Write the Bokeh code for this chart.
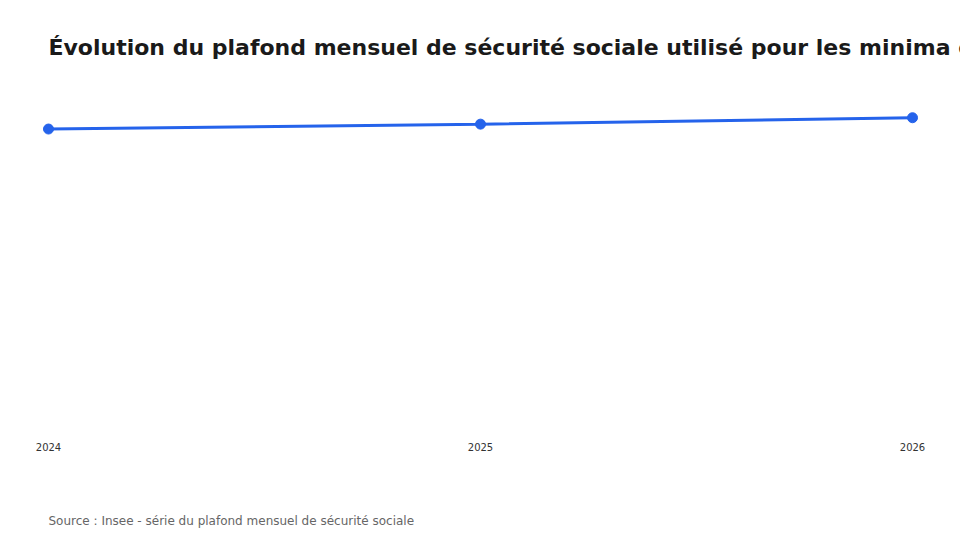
from bokeh.plotting import figure
from bokeh.models import ColumnDataSource, Range1d, FixedTicker, Title
from bokeh.embed import file_html
from bokeh.resources import INLINE

years = [2024, 2025, 2026]
pmss = [3864, 3925, 4005]

title_text = "Évolution du plafond mensuel de sécurité sociale utilisé pour les minima conventionnels"
source_text = "Source : Insee - série du plafond mensuel de sécurité sociale"

blue = "#2563eb"

source = ColumnDataSource(data=dict(x=years, y=pmss))

# points sit 20px inside the frame edges
pad = 20 / 432
p = figure(width=960, height=540, x_range=Range1d(years[0] - pad, years[-1] + pad),
           y_range=Range1d(0, 4370), y_axis_location=None,
           toolbar_location=None, tools="", output_backend="svg",
           min_border_left=28, min_border_right=28, min_border_top=88, min_border_bottom=102,
           outline_line_color=None, background_fill_color=None, border_fill_color="white")

p.line(x="x", y="y", line_width=3, color=blue, source=source)
p.scatter(x="x", y="y", size=10, color=blue, source=source)

p.title = Title(text=title_text, align="left", offset=20, standoff=58,
                text_font="DejaVu Sans", text_font_size="22px", text_font_style="bold",
                text_color="#1a1a1a")
# blank lines push the source note down without growing the panel too much
p.add_layout(Title(text="\n\n\n\n" + source_text, align="left", offset=20, standoff=4,
                   text_font="DejaVu Sans", text_font_size="12px", text_font_style="normal",
                   text_color="#666666"), "below")

p.grid.grid_line_color = None
p.xaxis.ticker = FixedTicker(ticks=years)
p.xaxis.axis_line_color = None
p.xaxis.major_tick_line_color = None
p.xaxis.minor_tick_line_color = None
p.xaxis.major_tick_out = 0
p.xaxis.major_label_text_font = "DejaVu Sans"
p.xaxis.major_label_text_font_size = "10px"
p.xaxis.major_label_text_color = "#333333"
p.xaxis.major_label_standoff = 4

open("out.html", "w").write(file_html(p, INLINE))
